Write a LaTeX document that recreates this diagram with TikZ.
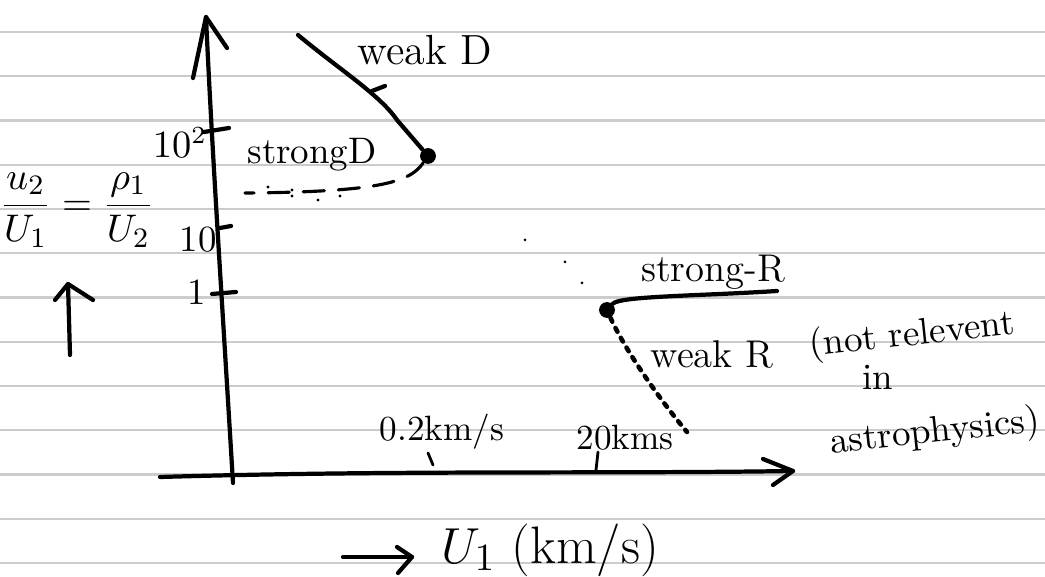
\documentclass[tikz,border=0pt]{standalone}
\usepackage{amsmath}
\begin{document}
\begin{tikzpicture}[x=0.01cm,y=-0.01cm,
  ink/.style={line width=1.2pt, line cap=round, line join=round},
  rulel/.style={gray!40, line width=0.6pt},
  lbl/.style={font=\fontsize{10.5}{12.5}\selectfont, inner sep=0pt},
  dotpt/.style={circle, fill=black, inner sep=0pt, minimum size=4.5pt}]
\useasboundingbox (0,0) rectangle (1045,577);
\fill[white] (0,0) rectangle (1045,577);
% ruled paper lines
\foreach \k in {0,...,12} \draw[rulel] (0,{32+44.25*\k}) -- (1045,{32+44.25*\k});
% vertical axis
\coordinate (yb) at (233,483);
\coordinate (yt) at (206,17);
\coordinate (yhl) at (193,78);
\coordinate (yhr) at (227,48);
\draw[ink] (yb) .. controls (222,300) and (212,150) .. (yt);
\draw[ink] (yhl) -- (yt) -- (yhr);
% horizontal axis
\coordinate (xl) at (160,477);
\coordinate (xr) at (793,471);
\coordinate (xhu) at (763,459);
\coordinate (xhd) at (773,485);
\draw[ink] (xl) .. controls (400,470) and (600,474) .. (xr);
\draw[ink] (xhu) -- (xr) -- (xhd);
% y ticks
\coordinate (t2a) at (204,132); \coordinate (t2b) at (229,128);
\coordinate (t1a) at (220,228); \coordinate (t1b) at (231,226);
\coordinate (t0a) at (212,294); \coordinate (t0b) at (236,292);
\draw[ink] (t2a) -- (t2b);
\draw[ink] (t1a) -- (t1b);
\draw[ink] (t0a) -- (t0b);
\node[lbl] (l100) at (180,143) {$10^{2}$};
\node[lbl] (l10) at (198,240) {10};
\node[lbl] (l1) at (197,292) {1};
% x ticks
\coordinate (xt1a) at (428,453); \coordinate (xt1b) at (433,465);
\coordinate (xt2a) at (598,452); \coordinate (xt2b) at (596,470);
\draw[ink, line width=0.8pt] (xt1a) -- (xt1b);
\draw[ink, line width=0.8pt] (xt2a) -- (xt2b);
\node[lbl, font=\fontsize{10}{12}\selectfont] (l02) at (442,432) {0.2km/s};
\node[lbl, font=\fontsize{10}{12}\selectfont] (l20) at (625,438) {20kms};
% y label
\node[lbl, font=\fontsize{11}{13}\selectfont] (ratio) at (77,210) {$\dfrac{u_2}{U_1}=\dfrac{\rho_1}{U_2}$};
\coordinate (ua) at (70,355);
\coordinate (ub) at (68,284);
\coordinate (ual) at (55,300);
\coordinate (uar) at (93,300);
\draw[ink] (ua) -- (ub);
\draw[ink] (ual) -- (ub) -- (uar);
% weak D / strong D
\coordinate (wd0) at (298,35);
\node[dotpt] (Dpt) at (428,156) {};
\draw[ink] (wd0) .. controls (340,70) and (380,95) .. (397,120) .. controls (410,135) .. (Dpt);
\coordinate (wta) at (372,91); \coordinate (wtb) at (385,86);
\draw[ink] (wta) -- (wtb);
\node[lbl, font=\fontsize{12}{14}\selectfont] (weakD) at (425,50) {weak D};
\node[lbl] (strongD) at (312,155) {strongD};
\coordinate (sd1) at (245,193);
\draw[ink, line width=0.9pt, dash pattern=on 6pt off 4pt] (Dpt) .. controls (410,182) and (380,192) .. (sd1);
\foreach \p in {(268,187),(292,190),(318,200),(340,196),(292,196)} \fill \p circle (1.6);
% faint dots between
\foreach \p in {(525,240),(565,262),(582,283)} \fill \p circle (1.5);
% strong R / weak R
\node[dotpt] (Rpt) at (607,310) {};
\coordinate (sr1) at (777,291);
\draw[ink] (Rpt) .. controls (620,296) and (700,296) .. (sr1);
\node[lbl, font=\fontsize{11}{13}\selectfont] (strongR) at (713,272) {strong-R};
\coordinate (wr1) at (687,432);
\draw[ink, dotted, line width=1.3pt] (Rpt) .. controls (625,350) and (660,400) .. (wr1);
\node[lbl, font=\fontsize{11}{13}\selectfont] (weakR) at (712,354) {weak R};
\node[lbl, rotate=6] (note1) at (912,336) {(not relevent};
\node[lbl] (note2) at (878,377) {in};
\node[lbl, rotate=6] (note3) at (935,433) {astrophysics)};
% bottom label
\coordinate (ba) at (343,557);
\coordinate (bb) at (412,557);
\coordinate (bhu) at (397,547);
\coordinate (bhd) at (398,573);
\draw[ink] (ba) -- (bb);
\draw[ink] (bhu) -- (bb) -- (bhd);
\node[lbl, font=\fontsize{15}{17}\selectfont] (ulab) at (550,550) {$U_1$ (km/s)};
\end{tikzpicture}
\end{document}
